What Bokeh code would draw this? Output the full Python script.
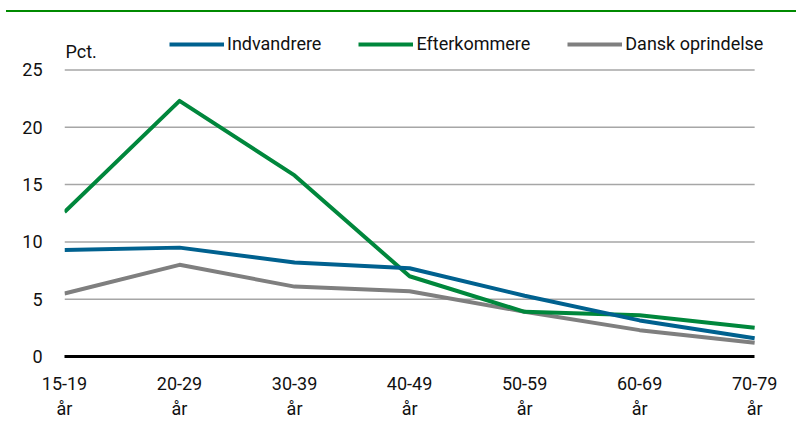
from bokeh.plotting import figure
from bokeh.models import FixedTicker, Legend, LegendItem, Label
from bokeh.embed import file_html
from bokeh.resources import INLINE

categories = ["15-19\når", "20-29\når", "30-39\når", "40-49\når", "50-59\når", "60-69\når", "70-79\når"]
indvandrere = [9.3, 9.5, 8.2, 7.7, 5.3, 3.15, 1.6]
efterkommere = [12.6, 22.3, 15.8, 7.0, 3.9, 3.6, 2.5]
dansk = [5.5, 8.0, 6.1, 5.7, 3.9, 2.3, 1.2]
y_ticks = [0, 5, 10, 15, 20, 25]

FONT = "Roboto"
TXT = "#111111"
x = list(range(len(categories)))
x_last = len(categories) - 1

p = figure(width=790, height=409, output_backend="svg", toolbar_location=None,
           x_range=(0, x_last + 0.19), y_range=(0, 28.62),
           min_border_left=58, min_border_right=20, min_border_top=16, min_border_bottom=65)
p.styles = {"margin-top": "10px", "margin-left": "6px", "border-top": "2px solid #008a00"}
p.outline_line_color = None
p.background_fill_color = "white"

p.xgrid.grid_line_color = None
p.ygrid.grid_line_color = None
# horizontal gridlines spanning the category extent only
for t in y_ticks[1:]:
    p.segment(x0=0, x1=x_last, y0=t, y1=t, line_color="#a6a6a6", line_width=1.5)

p.yaxis.ticker = FixedTicker(ticks=y_ticks)
p.xaxis.ticker = FixedTicker(ticks=x)
p.xaxis.major_label_overrides = {i: c for i, c in enumerate(categories)}
p.xaxis.bounds = (0, x_last)

for ax in (p.xaxis[0], p.yaxis[0]):
    ax.major_tick_line_color = None
    ax.minor_tick_line_color = None
    ax.major_label_text_font = FONT
    ax.major_label_text_font_size = "18px"
    ax.major_label_text_color = TXT
p.yaxis.axis_line_color = None
p.yaxis.major_label_standoff = 16
p.xaxis.axis_line_color = "black"
p.xaxis.axis_line_width = 3
p.xaxis.major_label_standoff = 10

colors = {"Indvandrere": "#00618f", "Efterkommere": "#00873c", "Dansk oprindelse": "#7f7f7f"}
rmap = {}
for name, vals in [("Dansk oprindelse", dansk), ("Efterkommere", efterkommere), ("Indvandrere", indvandrere)]:
    rmap[name] = p.line(x, vals, line_color=colors[name], line_width=4, line_join="round")

legend = Legend(items=[LegendItem(label=n, renderers=[rmap[n]]) for n in ["Indvandrere", "Efterkommere", "Dansk oprindelse"]],
                orientation="horizontal", location=(105, 302),
                glyph_width=55, glyph_height=20, label_height=20, label_standoff=3, spacing=37,
                padding=0, margin=0, border_line_color=None, background_fill_alpha=0,
                label_text_font=FONT, label_text_font_size="18px", label_text_color=TXT)
p.add_layout(legend, "center")

p.add_layout(Label(x=0, y=25, x_offset=1, y_offset=18.5, text="Pct.", text_font=FONT,
                   text_font_size="18px", text_color=TXT, text_baseline="alphabetic"))

open("out.html", "w").write(file_html(p, INLINE))
